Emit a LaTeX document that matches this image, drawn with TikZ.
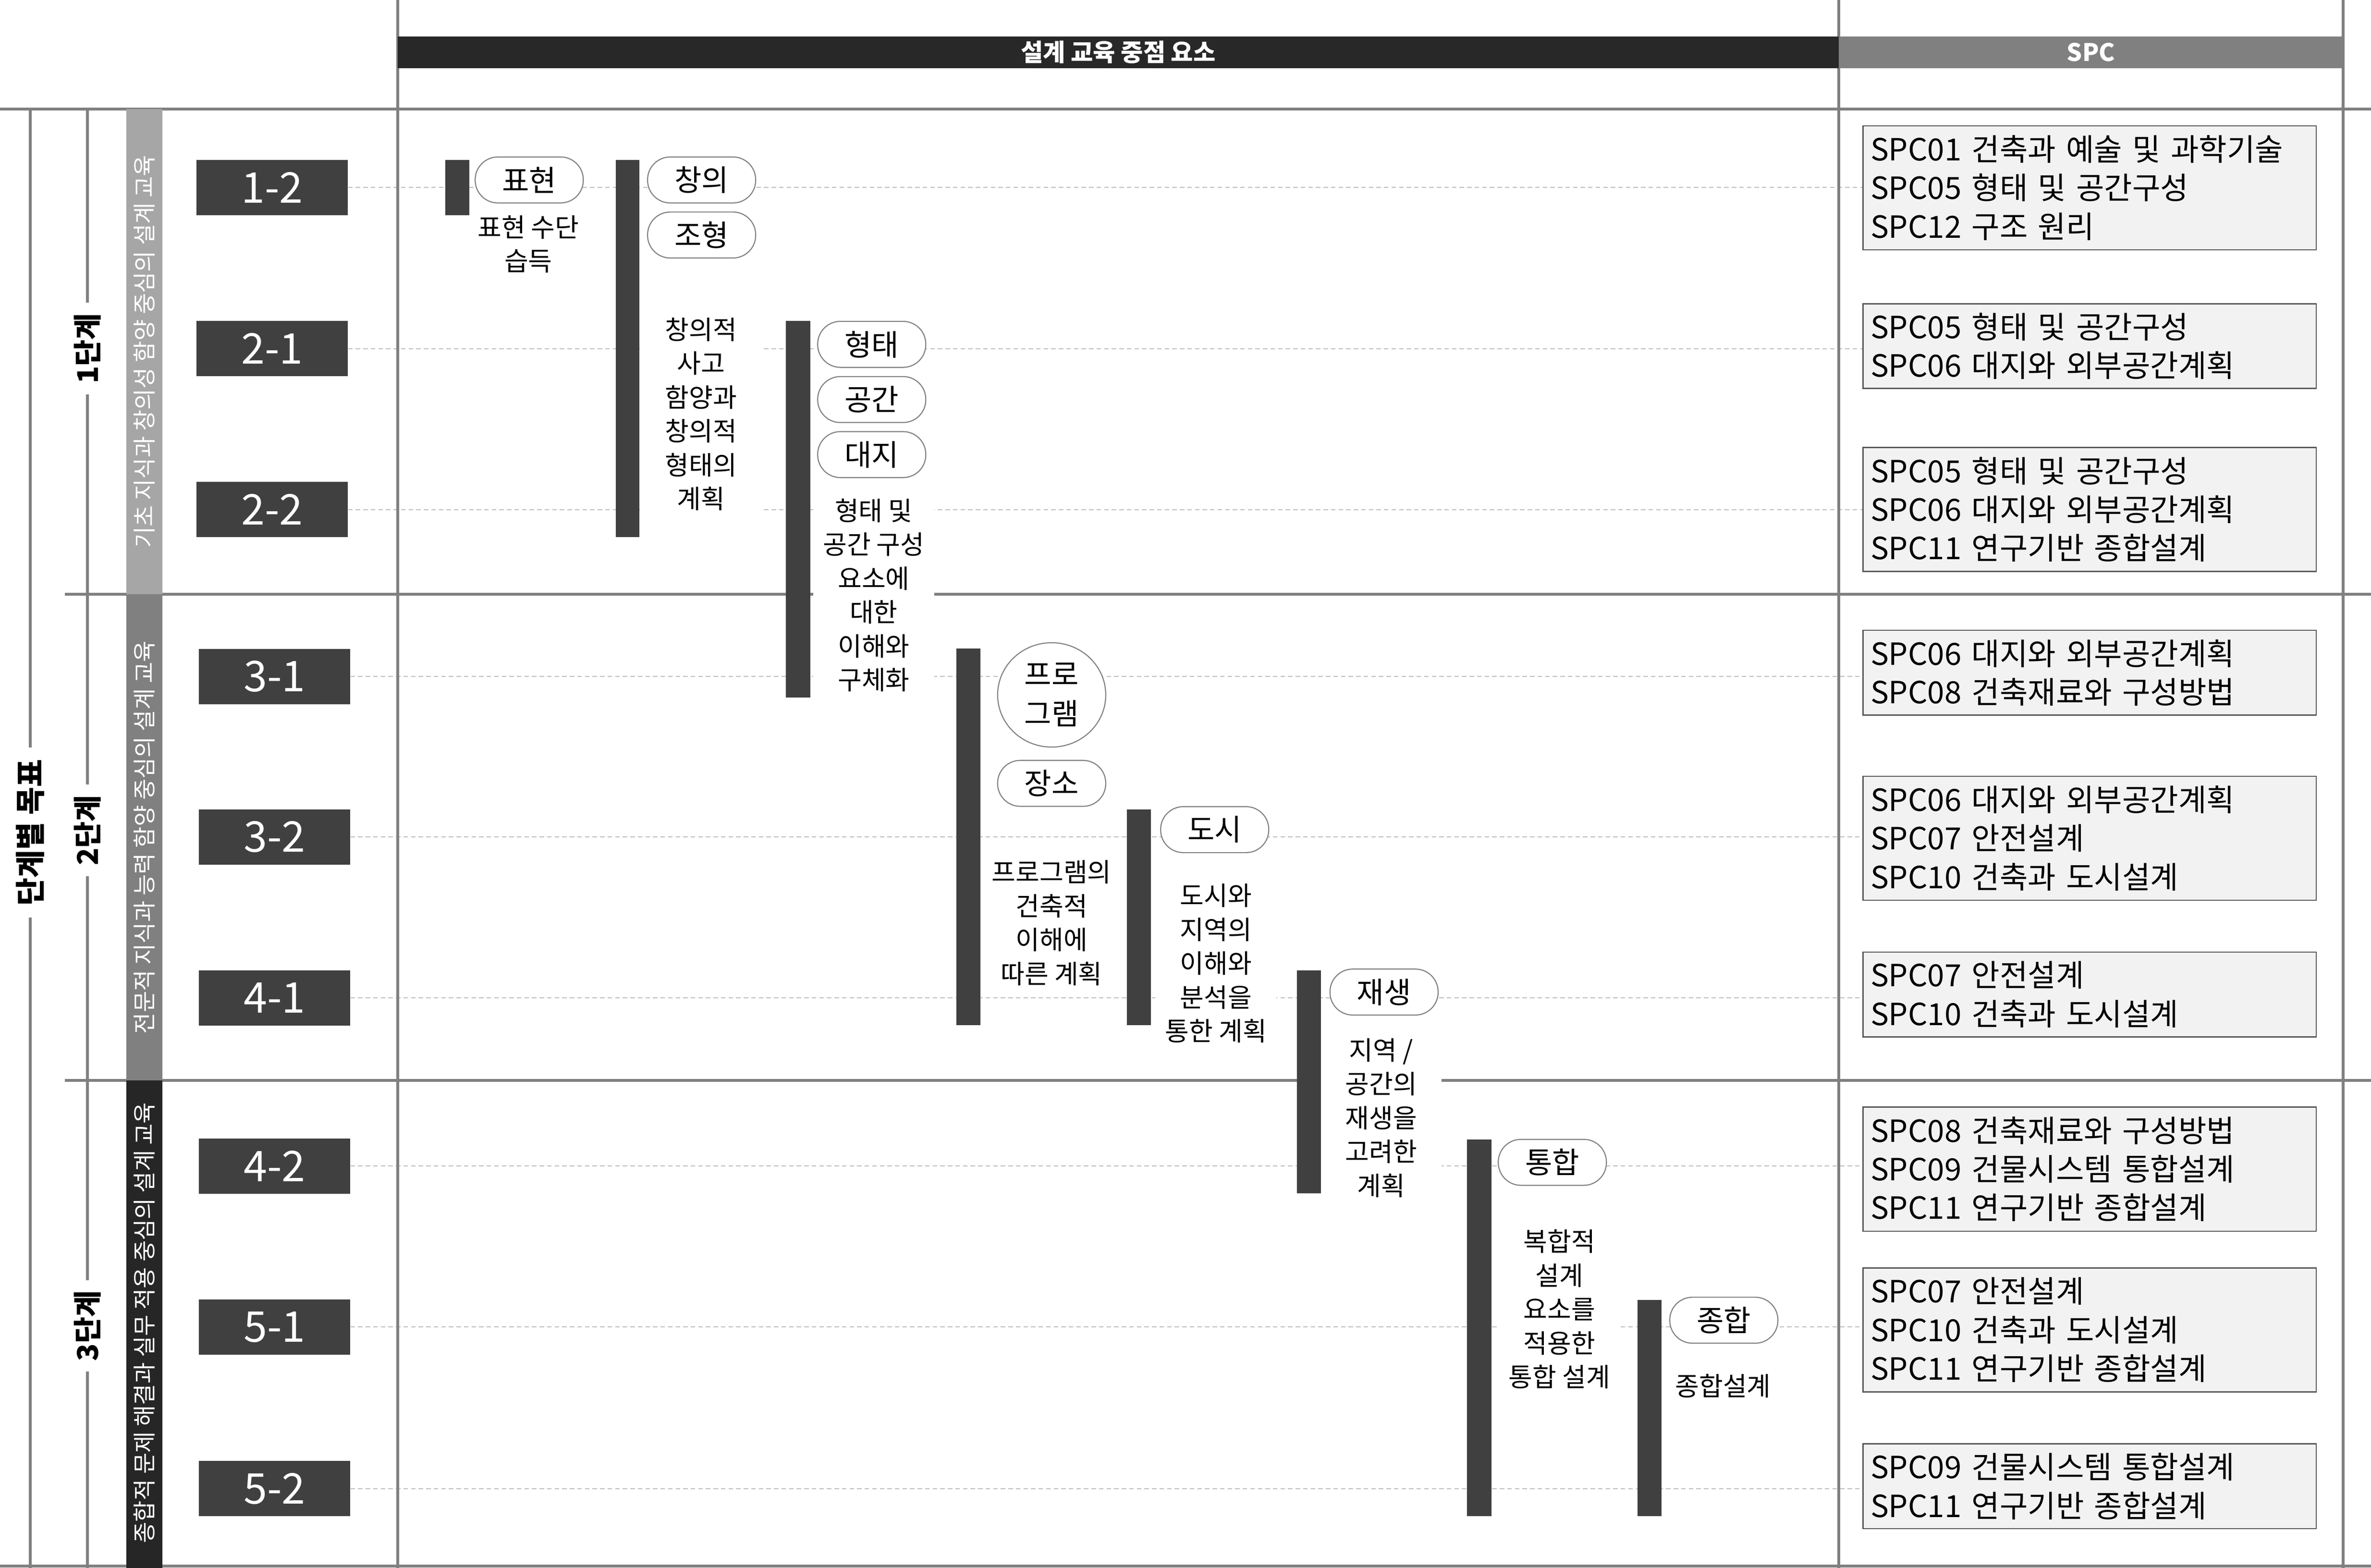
\documentclass[tikz,border=0pt]{standalone}
\usepackage{fontspec}
\setmainfont{Noto Sans CJK KR}
\usetikzlibrary{shapes.geometric}
\definecolor{gridc}{HTML}{808080}
\definecolor{dashc}{HTML}{BDBDBD}
\definecolor{boxc}{HTML}{404040}
\definecolor{pillc}{HTML}{808080}
\definecolor{spcb}{HTML}{595959}
\definecolor{spcf}{HTML}{F2F2F2}
\definecolor{bandA}{HTML}{A6A6A6}
\definecolor{bandB}{HTML}{808080}
\definecolor{bandC}{HTML}{262626}
\definecolor{hdrA}{HTML}{282828}
\definecolor{hdrB}{HTML}{808080}
\pgfdeclarelayer{bg}
\pgfdeclarelayer{fg}
\pgfsetlayers{bg,main,fg}
\begin{document}
\begin{tikzpicture}[x=1pt,y=-1pt,
  gridl/.style={draw=gridc,line width=1.9pt},
  rowl/.style={draw=dashc,line width=0.6pt,dash pattern=on 3pt off 2pt},
  lvl/.style={fill=boxc,text=white,minimum width=100pt,minimum height=36.5pt,inner sep=0pt,font=\fontsize{28}{28}\selectfont},
  pill/.style={draw=pillc,line width=0.7pt,fill=white,rounded corners=15pt,minimum width=71.5pt,minimum height=30.4pt,inner sep=0pt,font=\fontsize{19.5}{19.5}\selectfont},
  desc/.style={fill=white,align=center,inner xsep=5pt,inner ysep=2pt,minimum width=80pt,font=\fontsize{17.2}{22.4}\selectfont},
  spc/.style={draw=spcb,line width=0.8pt,fill=spcf,text width=289.7pt,align=left,inner xsep=5pt,inner ysep=0pt,font=\fontsize{20.2}{25.5}\selectfont},
  band/.style={rotate=90,text=white,inner sep=0pt,font=\fontsize{15.3}{15.3}\selectfont},
  stage/.style={rotate=90,fill=white,inner xsep=7pt,inner ysep=1pt,font=\bfseries\fontsize{19}{19}\selectfont},
  hdr/.style={text=white,inner sep=0pt,font=\bfseries\fontsize{16}{16}\selectfont},
  barfill/.style={fill=boxc}
]
\useasboundingbox (0,0) rectangle (1568,1036.8);

% header
\fill[hdrA] (263,24) rectangle (1216,45);
\fill[hdrB] (1216,24) rectangle (1549.5,45);
\node[hdr] (hmain) at (739.5,34.5) {설계 교육 중점 요소};
\node[hdr] (hspc) at (1382.8,34.5) {SPC};

% level boxes
\node[lvl] (l12) at (180,124) {1-2};
\node[lvl] (l21) at (180,230.5) {2-1};
\node[lvl] (l22) at (180,337) {2-2};
\node[lvl] (l31) at (181.6,447.3) {3-1};
\node[lvl] (l32) at (181.6,553.5) {3-2};
\node[lvl] (l41) at (181.6,659.9) {4-1};
\node[lvl] (l42) at (181.6,771.1) {4-2};
\node[lvl] (l51) at (181.6,877.5) {5-1};
\node[lvl] (l52) at (181.6,984.4) {5-2};

% SPC boxes
\node[spc,minimum height=82pt] (s1) at (1381.85,124.2) {SPC01 건축과 예술 및 과학기술\\SPC05 형태 및 공간구성\\SPC12 구조 원리};
\node[spc,minimum height=56pt] (s2) at (1381.85,228.9) {SPC05 형태 및 공간구성\\SPC06 대지와 외부공간계획};
\node[spc,minimum height=82pt] (s3) at (1381.85,336.9) {SPC05 형태 및 공간구성\\SPC06 대지와 외부공간계획\\SPC11 연구기반 종합설계};
\node[spc,minimum height=56pt] (s4) at (1381.85,444.8) {SPC06 대지와 외부공간계획\\SPC08 건축재료와 구성방법};
\node[spc,minimum height=82pt] (s5) at (1381.85,554.3) {SPC06 대지와 외부공간계획\\SPC07 안전설계\\SPC10 건축과 도시설계};
\node[spc,minimum height=56pt] (s6) at (1381.85,657.6) {SPC07 안전설계\\SPC10 건축과 도시설계};
\node[spc,minimum height=82pt] (s7) at (1381.85,773.1) {SPC08 건축재료와 구성방법\\SPC09 건물시스템 통합설계\\SPC11 연구기반 종합설계};
\node[spc,minimum height=82pt] (s8) at (1381.85,879.4) {SPC07 안전설계\\SPC10 건축과 도시설계\\SPC11 연구기반 종합설계};
\node[spc,minimum height=56pt] (s9) at (1381.85,982.8) {SPC09 건물시스템 통합설계\\SPC11 연구기반 종합설계};

% pills
\node[pill] (p1) at (350,119) {표현};
\node[pill] (p2) at (464,119) {창의};
\node[pill] (p3) at (464,155.4) {조형};
\node[pill] (p4) at (576.5,227.7) {형태};
\node[pill] (p5) at (576.5,264.2) {공간};
\node[pill] (p6) at (576.5,300.6) {대지};
\node[draw=pillc,line width=0.7pt,fill=white,ellipse,minimum width=71.5pt,minimum height=69pt,inner sep=0pt,align=center,font=\fontsize{19.5}{26}\selectfont] (p7) at (695.5,459.5) {프로\\그램};
\node[pill] (p8) at (695.5,518) {장소};
\node[pill] (p9) at (803.3,548.6) {도시};
\node[pill] (p10) at (915.3,656) {재생};
\node[pill] (p11) at (1026.6,768.6) {통합};
\node[pill] (p12) at (1140,873) {종합};

% descriptions
\node[desc] (t1) at (349.4,161.5) {표현 수단\\습득};
\node[desc] (t2) at (463.5,273.9) {창의적\\사고\\함양과\\창의적\\형태의\\계획};
\node[desc] (t3) at (577.8,393.6) {형태 및\\공간 구성\\요소에\\대한\\이해와\\구체화};
\node[desc] (t4) at (695.4,610.3) {프로그램의\\건축적\\이해에\\따른 계획};
\node[desc] (t5) at (804.1,637) {도시와\\지역의\\이해와\\분석을\\통한 계획};
\node[desc] (t6) at (913.4,739.2) {지역 /\\공간의\\재생을\\고려한\\계획};
\node[desc] (t7) at (1031.3,865.7) {복합적\\설계\\요소를\\적용한\\통합 설계};
\node[desc] (t8) at (1139.5,916.3) {종합설계};

% band texts
\node[band] (bt1) at (95.5,232.5) {기초 지식과 창의성 함양 중심의 설계 교육};
\node[band] (bt2) at (95.5,553.7) {전문적 지식과 능력 함양 중심의 설계 교육};
\node[band] (bt3) at (95.5,874.8) {종합적 문제 해결과 실무 적용 중심의 설계 교육};

% stage labels
\node[stage] (g1) at (57.7,230.5) {1단계};
\node[stage] (g2) at (57.7,549) {2단계};
\node[stage] (g3) at (57.7,876.7) {3단계};
\node[stage,inner xsep=8pt,font=\bfseries\fontsize{20}{20}\selectfont] (goal) at (20,550.5) {단계별 목표};

\begin{pgfonlayer}{bg}
  % row dashed lines
  \foreach \l/\s in {l12/s1,l21/s2,l22/s3,l31/s4,l32/s5,l41/s6,l42/s7,l51/s8,l52/s9}
    \draw[rowl] (\l.east) -- (\l.east -| \s.west);
  % grid lines
  \draw[gridl] (263,0) -- (263,1036.8);
  \draw[gridl] (1216,0) -- (1216,1036.8);
  \draw[gridl] (1549.5,0) -- (1549.5,1036.8);
  \draw[gridl] (0,72) -- (1568,72);
  \draw[gridl] (43,393) -- (1568,393);
  \draw[gridl] (43,714.5) -- (1568,714.5);
  \draw[gridl] (0,1035.5) -- (1568,1035.5);
  \draw[gridl] (20,72) -- (20,1036.8);
  \draw[gridl] (57.7,72) -- (57.7,1036.8);
  % bands
  \fill[bandA] (83.5,72) rectangle (107.4,393);
  \fill[bandB] (83.5,393) rectangle (107.4,714.5);
  \fill[bandC] (83.5,714.5) rectangle (107.4,1036.8);
\end{pgfonlayer}

\begin{pgfonlayer}{fg}
  \fill[barfill] (294.4,105.7) rectangle (310.5,142.4);
  \fill[barfill] (407.1,105.7) rectangle (422.9,355.3);
  \fill[barfill] (519.6,212.1) rectangle (535.8,461.3);
  \fill[barfill] (632.4,428.9) rectangle (648.2,677.8);
  \fill[barfill] (745.3,535.2) rectangle (761.1,677.8);
  \fill[barfill] (857.7,641.8) rectangle (873.6,789.2);
  \fill[barfill] (970.1,753.4) rectangle (986.4,1002.6);
  \fill[barfill] (1082.9,859.6) rectangle (1098.7,1002.6);
\end{pgfonlayer}
\end{tikzpicture}
\end{document}
